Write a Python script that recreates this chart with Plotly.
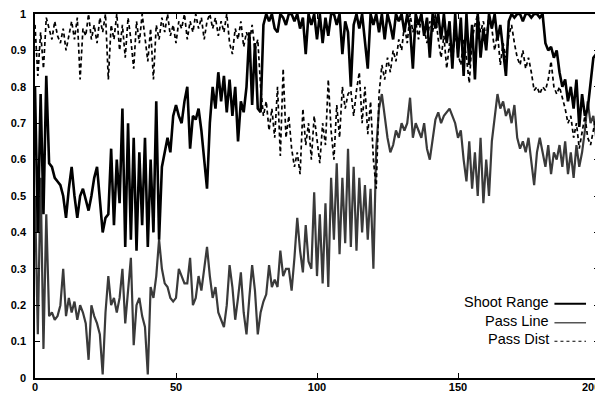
import plotly.graph_objects as go

x_vals = list(range(201))

shoot_range = [
    0.80, 0.40, 0.78, 0.45, 0.83, 0.59, 0.58, 0.55, 0.54, 0.53,
    0.50, 0.44, 0.52, 0.58, 0.50, 0.44, 0.50, 0.52, 0.49, 0.46,
    0.50, 0.55, 0.58, 0.50, 0.40, 0.44, 0.45, 0.63, 0.42, 0.60,
    0.48, 0.74, 0.36, 0.70, 0.38, 0.66, 0.35, 0.62, 0.42, 0.66,
    0.36, 0.60, 0.40, 0.76, 0.38, 0.58, 0.62, 0.66, 0.62, 0.72,
    0.75, 0.72, 0.70, 0.76, 0.80, 0.63, 0.72, 0.71, 0.74, 0.68,
    0.60, 0.52, 0.70, 0.80, 0.74, 0.84, 0.76, 0.83, 0.73, 0.82,
    0.72, 0.80, 0.65, 0.76, 0.73, 0.80, 0.95, 0.75, 0.92, 0.74,
    0.73, 0.97, 1.00, 0.98, 1.00, 0.96, 0.95, 1.00, 0.99, 0.97,
    1.00, 1.00, 0.98, 1.00, 0.96, 0.99, 0.89, 1.00, 0.97, 1.00,
    0.93, 1.00, 0.92, 0.99, 0.94, 1.00, 1.00, 0.97, 1.00, 0.89,
    0.98, 0.95, 0.80, 0.97, 1.00, 0.96, 1.00, 0.93, 0.85, 1.00,
    0.97, 1.00, 0.95, 1.00, 0.93, 1.00, 0.97, 0.93, 1.00, 0.98,
    1.00, 0.95, 1.00, 0.96, 0.85, 1.00, 0.97, 1.00, 0.94, 0.99,
    0.88, 1.00, 0.96, 1.00, 0.93, 1.00, 0.92, 0.98, 0.85, 1.00,
    0.88, 0.99, 0.83, 1.00, 0.86, 0.97, 0.82, 1.00, 0.88, 0.96,
    0.90, 1.00, 0.96, 1.00, 0.93, 0.97, 0.90, 0.83, 0.98, 1.00,
    0.99, 1.00, 1.00, 0.98, 1.00, 1.00, 0.99, 1.00, 1.00, 0.99,
    1.00, 0.92, 0.90, 0.91, 0.88, 0.90, 0.84, 0.80, 0.82, 0.76,
    0.80, 0.74, 0.82, 0.69, 0.78, 0.72, 0.74, 0.82, 0.88, 0.89,
    0.72,
]

pass_line = [
    0.50, 0.12, 0.55, 0.08, 0.45, 0.17, 0.18, 0.16, 0.17, 0.20,
    0.30, 0.17, 0.22, 0.18, 0.21, 0.16, 0.20, 0.18, 0.15, 0.05,
    0.20, 0.17, 0.15, 0.12, 0.01, 0.18, 0.28, 0.20, 0.22, 0.18,
    0.22, 0.30, 0.15, 0.24, 0.33, 0.09, 0.20, 0.22, 0.17, 0.14,
    0.01, 0.25, 0.22, 0.28, 0.38, 0.30, 0.26, 0.25, 0.22, 0.21,
    0.22, 0.30, 0.28, 0.26, 0.26, 0.33, 0.20, 0.22, 0.28, 0.24,
    0.30, 0.36, 0.28, 0.22, 0.25, 0.18, 0.16, 0.14, 0.20, 0.31,
    0.25, 0.16, 0.22, 0.29, 0.18, 0.12, 0.22, 0.31, 0.24, 0.12,
    0.18, 0.21, 0.23, 0.31, 0.25, 0.27, 0.25, 0.35, 0.28, 0.30,
    0.30, 0.24, 0.33, 0.44, 0.35, 0.29, 0.42, 0.32, 0.30, 0.51,
    0.28, 0.45, 0.26, 0.48, 0.25, 0.55, 0.38, 0.59, 0.34, 0.55,
    0.37, 0.63, 0.36, 0.58, 0.35, 0.55, 0.40, 0.53, 0.38, 0.52,
    0.30, 0.63, 0.74, 0.78, 0.72, 0.66, 0.62, 0.64, 0.68, 0.66,
    0.70, 0.68, 0.70, 0.77, 0.66, 0.70, 0.68, 0.66, 0.70, 0.63,
    0.60, 0.66, 0.71, 0.73, 0.70, 0.72, 0.73, 0.74, 0.72, 0.70,
    0.66, 0.68, 0.60, 0.54, 0.65, 0.52, 0.62, 0.50, 0.66, 0.48,
    0.60, 0.50, 0.65, 0.72, 0.78, 0.74, 0.76, 0.72, 0.74, 0.70,
    0.75, 0.66, 0.63, 0.65, 0.62, 0.66, 0.60, 0.53, 0.62, 0.66,
    0.62, 0.58, 0.64, 0.56, 0.62, 0.60, 0.64, 0.58, 0.65, 0.56,
    0.62, 0.55, 0.64, 0.58, 0.62, 0.68, 0.76, 0.70, 0.72, 0.66,
    0.72,
]

pass_dist = [
    0.97, 0.83, 0.95, 0.85, 0.99, 0.96, 0.93, 0.98, 0.94, 0.92,
    0.96, 0.90, 0.94, 0.98, 0.93, 0.99, 0.82, 0.96, 0.94, 1.00,
    0.93, 0.97, 0.92, 0.99, 0.95, 1.00, 0.82, 0.97, 0.93, 1.00,
    0.90, 0.97, 0.88, 0.99, 0.93, 0.85, 0.98, 0.92, 1.00, 0.94,
    0.87, 0.96, 0.82, 0.97, 0.93, 0.99, 0.95, 1.00, 0.94, 0.97,
    0.92, 0.98, 0.96, 1.00, 0.93, 0.98, 0.95, 1.00, 0.96, 0.99,
    0.93, 0.98, 1.00, 0.96, 0.99, 0.94, 0.98, 0.95, 1.00, 0.92,
    0.89, 0.96, 0.93, 0.98, 0.91, 0.95, 0.92, 0.97, 0.90, 0.93,
    0.80, 0.72, 0.76, 0.68, 0.74, 0.66, 0.80, 0.61, 0.85, 0.66,
    0.72, 0.63, 0.58, 0.62, 0.56, 0.74, 0.64, 0.70, 0.60, 0.72,
    0.66, 0.59, 0.70, 0.64, 0.82, 0.68, 0.60, 0.75, 0.66, 0.80,
    0.74, 0.78, 0.79, 0.72, 0.79, 0.84, 0.70, 0.80, 0.67, 0.76,
    0.60, 0.52, 0.78, 0.86, 0.82, 0.88, 0.84, 0.90, 0.87, 0.93,
    0.90, 0.97, 0.92, 1.00, 0.95, 0.98, 0.93, 1.00, 0.96, 0.92,
    0.98, 0.95, 1.00, 0.93, 0.88, 0.94, 0.85, 0.92, 0.87, 0.95,
    0.89, 0.86, 0.93, 0.88, 0.81, 0.93, 0.97, 1.00, 0.95, 0.98,
    0.93, 1.00, 0.96, 0.90, 0.95, 0.86, 0.92, 0.88, 0.94, 0.97,
    0.92, 0.88, 0.86, 0.90, 0.85, 0.88, 0.84, 0.79, 0.80, 0.78,
    0.80, 0.79, 0.82, 0.87, 0.80, 0.78, 0.80, 0.77, 0.74, 0.70,
    0.72, 0.66, 0.70, 0.63, 0.68, 0.72, 0.66, 0.64, 0.68, 0.72,
    0.78,
]

x_tick_vals = [0, 50, 100, 150, 200]
x_tick_text = ["0", "50", "100", "150", ""]
x_last_label = "200"
y_tick_vals = [0, 0.1, 0.2, 0.3, 0.4, 0.5, 0.6, 0.7, 0.8, 0.9, 1]
y_tick_text = ["0", "0.1", "0.2", "0.3", "0.4", "0.5", "0.6", "0.7", "0.8", "0.9", "1"]

legend_names = ["Shoot Range", "Pass Line", "Pass Dist"]

FONT = "Liberation Sans, Arial, sans-serif"

fig = go.Figure()
fig.add_trace(go.Scatter(x=x_vals, y=pass_line, mode="lines", name=legend_names[1],
                         line=dict(color="#3a3a3a", width=2.2), showlegend=False))
fig.add_trace(go.Scatter(x=x_vals, y=pass_dist, mode="lines", name=legend_names[2],
                         line=dict(color="black", width=1.7, dash="4px,3px"), showlegend=False))
fig.add_trace(go.Scatter(x=x_vals, y=shoot_range, mode="lines", name=legend_names[0],
                         line=dict(color="black", width=2.6), showlegend=False))

tick_font = dict(family=FONT, size=11, color="black", weight="bold")
axis_common = dict(showline=True, linecolor="black", linewidth=1.5, mirror="ticks",
                   ticks="inside", ticklen=5, tickcolor="black", tickwidth=1.2,
                   showgrid=False, zeroline=False, automargin=False,
                   ticklabeloverflow="allow", tickfont=tick_font)

fig.update_xaxes(range=[0, 200], tickvals=x_tick_vals, ticktext=x_tick_text,
                 ticklabelstandoff=-2, **axis_common)
fig.update_yaxes(range=[0, 1], tickvals=y_tick_vals, ticktext=y_tick_text,
                 ticklabelstandoff=5, **axis_common)

# last x label sits at the right edge, kept inside the window
fig.add_annotation(x=1, y=0, xref="paper", yref="paper", text=x_last_label,
                   showarrow=False, xanchor="right", yanchor="top",
                   xshift=3, yshift=-1, font=tick_font)

# legend drawn like the original: text right-aligned, sample line to its right
leg_y = [0.209, 0.157, 0.106]
leg_styles = [dict(color="black", width=2.2),
              dict(color="#555555", width=1.5),
              dict(color="black", width=1.2, dash="3px,3px")]
for name, yy, st in zip(legend_names, leg_y, leg_styles):
    fig.add_annotation(x=0.915, y=yy, xref="paper", yref="paper", text=name,
                       showarrow=False, xanchor="right", yanchor="middle",
                       font=dict(family=FONT, size=14.5, color="black"))
    fig.add_shape(type="line", xref="paper", yref="paper", x0=0.921, x1=0.977,
                  y0=yy - 0.005, y1=yy - 0.005, line=st)

# the page body adds an 8px offset; size and margins compensate for it
fig.update_layout(width=595, height=386, margin=dict(l=27, r=4, t=6, b=16),
                  paper_bgcolor="white", plot_bgcolor="white",
                  font=dict(family=FONT, color="black"), showlegend=False)

fig.write_html("out.html")
